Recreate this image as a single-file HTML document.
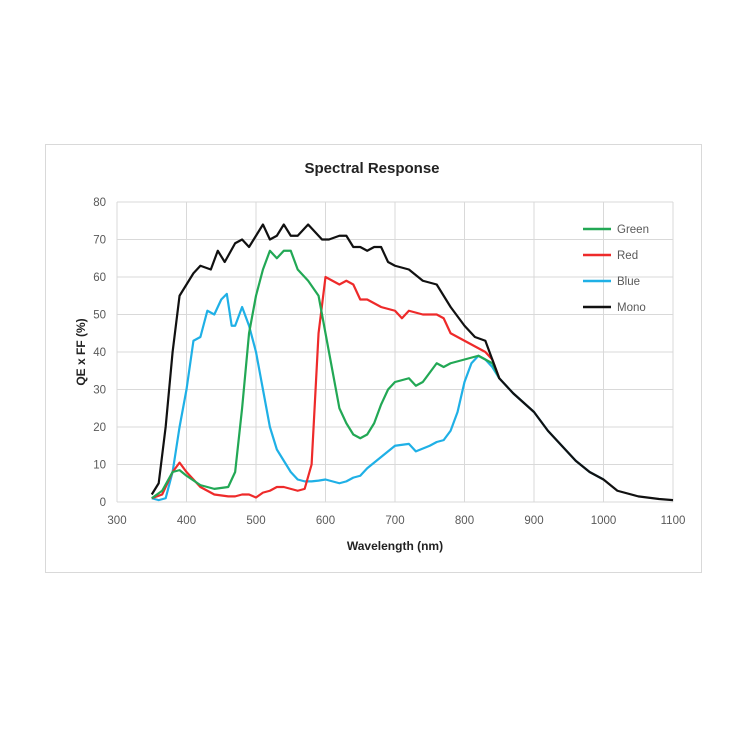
<!DOCTYPE html>
<html><head><style>body{margin:0;background:#fff}svg{display:block}</style></head><body>
<svg width="750" height="750" xmlns="http://www.w3.org/2000/svg" font-family="Liberation Sans, sans-serif">
<rect x="45.5" y="144.5" width="656" height="428" fill="#fff" stroke="#d9d9d9"/>
<text x="372" y="173" text-anchor="middle" font-size="15" font-weight="bold" fill="#222">Spectral Response</text>
<g stroke="#d9d9d9" stroke-width="1">
<line x1="117" y1="202" x2="673" y2="202"/><line x1="117" y1="239.5" x2="673" y2="239.5"/><line x1="117" y1="277" x2="673" y2="277"/><line x1="117" y1="314.5" x2="673" y2="314.5"/><line x1="117" y1="352" x2="673" y2="352"/><line x1="117" y1="389.5" x2="673" y2="389.5"/><line x1="117" y1="427" x2="673" y2="427"/><line x1="117" y1="464.5" x2="673" y2="464.5"/><line x1="117" y1="502" x2="673" y2="502"/>
<line x1="117" y1="202" x2="117" y2="502"/><line x1="186.5" y1="202" x2="186.5" y2="502"/><line x1="256" y1="202" x2="256" y2="502"/><line x1="325.5" y1="202" x2="325.5" y2="502"/><line x1="395" y1="202" x2="395" y2="502"/><line x1="464.5" y1="202" x2="464.5" y2="502"/><line x1="534" y1="202" x2="534" y2="502"/><line x1="603.5" y1="202" x2="603.5" y2="502"/><line x1="673" y1="202" x2="673" y2="502"/>
</g>
<g font-size="11.5" fill="#595959" text-anchor="end">
<text x="106" y="206">80</text><text x="106" y="243.5">70</text><text x="106" y="281">60</text><text x="106" y="318.5">50</text><text x="106" y="356">40</text><text x="106" y="393.5">30</text><text x="106" y="431">20</text><text x="106" y="468.5">10</text><text x="106" y="506">0</text>
</g>
<g font-size="11.5" fill="#595959" text-anchor="middle">
<text x="117" y="524">300</text><text x="186.5" y="524">400</text><text x="256" y="524">500</text><text x="325.5" y="524">600</text><text x="395" y="524">700</text><text x="464.5" y="524">800</text><text x="534" y="524">900</text><text x="603.5" y="524">1000</text><text x="673" y="524">1100</text>
</g>
<text x="395" y="550" text-anchor="middle" font-size="12" font-weight="bold" fill="#222">Wavelength (nm)</text>
<text transform="translate(85,352) rotate(-90)" text-anchor="middle" font-size="12" font-weight="bold" fill="#222">QE x FF (%)</text>
<g fill="none" stroke-width="2.2" stroke-linejoin="round" transform="translate(-91.5,502) scale(0.695,-3.75)">
<polyline vector-effect="non-scaling-stroke" stroke="#1fb0e6" points="350,1 360,0.5 370,1 380,8 390,20 400,30 410,43 420,44 430,51 440,50 450,54 458,55.5 465,47 470,47 480,52 490,47 500,40 510,30 520,20 530,14 540,11 550,8 560,6 570,5.5 580,5.5 590,5.7 600,6 620,5 630,5.5 640,6.5 650,7 660,9 680,12 700,15 720,15.5 730,13.5 750,15 760,16 770,16.5 780,19 790,24 800,32 810,37 820,39 830,38 840,36 850,33 870,29 900,24 920,19 940,15 960,11 980,8 1000,6"/>
<polyline vector-effect="non-scaling-stroke" stroke="#ee2a2a" points="350,1 365,2 380,8 390,10.5 400,8 420,4 440,2 460,1.5 470,1.5 480,2 490,2 500,1.2 510,2.5 520,3 530,4 540,4 550,3.5 560,3 570,3.5 580,10 590,45 600,60 610,59 620,58 630,59 640,58 650,54 660,54 670,53 680,52 700,51 710,49 720,51 740,50 760,50 770,49 780,45 800,43 830,40 840,38 850,33"/>
<polyline vector-effect="non-scaling-stroke" stroke="#22a855" points="350,1 365,3 380,8 390,8.5 400,7 420,4.5 440,3.5 460,4 470,8 480,25 490,45 500,55 510,62 520,67 530,65 540,67 550,67 560,62 575,59 590,55 600,45 610,35 620,25 630,21 640,18 650,17 660,18 670,21 680,26 690,30 700,32 720,33 730,31 740,32 760,37 770,36 780,37 800,38 820,39 840,37 850,33"/>
<polyline vector-effect="non-scaling-stroke" stroke="#111" points="350,2 360,5 370,20 380,40 390,55 400,58 410,61 420,63 435,62 445,67 455,64 470,69 480,70 490,68 500,71 510,74 520,70 530,71 540,74 550,71 560,71 575,74 585,72 595,70 605,70 620,71 630,71 640,68 650,68 660,67 670,68 680,68 690,64 700,63 720,62 740,59 760,58 780,52 800,47 815,44 830,43 840,38 850,33 870,29 900,24 920,19 940,15 960,11 980,8 1000,6 1020,3 1050,1.5 1080,0.8 1100,0.5"/>
</g>
<g stroke-width="2.5">
<line x1="583" y1="229" x2="611" y2="229" stroke="#22a855"/>
<line x1="583" y1="255" x2="611" y2="255" stroke="#ee2a2a"/>
<line x1="583" y1="281" x2="611" y2="281" stroke="#1fb0e6"/>
<line x1="583" y1="307" x2="611" y2="307" stroke="#111"/>
</g>
<g font-size="11.5" fill="#595959">
<text x="617" y="233">Green</text><text x="617" y="259">Red</text><text x="617" y="285">Blue</text><text x="617" y="311">Mono</text>
</g>
</svg>
</body></html>
